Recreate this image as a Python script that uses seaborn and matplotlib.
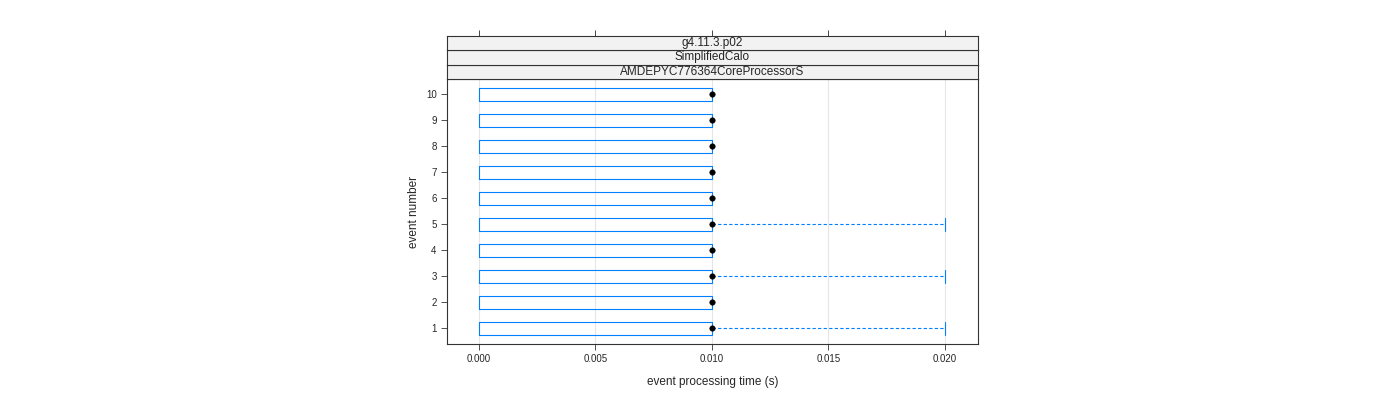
import matplotlib
matplotlib.use("Agg")
import matplotlib.pyplot as plt
import seaborn as sns
import pandas as pd
from matplotlib.patches import Rectangle

# per-event box statistics (seconds)
events = [1, 2, 3, 4, 5, 6, 7, 8, 9, 10]
q1 = [0.0] * 10
median = [0.01] * 10
q3 = [0.01] * 10
whisk_hi = [0.02, 0.01, 0.02, 0.01, 0.02, 0.01, 0.01, 0.01, 0.01, 0.01]
strip_labels = ["g4.11.3.p02", "SimplifiedCalo", "AMDEPYC776364CoreProcessorS"]
xticks = [0.0, 0.005, 0.010, 0.015, 0.020]

BLUE = "#0080ff"

sns.set_style("white")
plt.rcParams["font.family"] = ["Liberation Sans", "DejaVu Sans"]

fig = plt.figure(figsize=(14, 4), dpi=100)
ax = fig.add_axes([447 / 1400, 56 / 400, 531 / 1400, 265 / 400])

stats = []
for e, a, m, b, w in zip(events, q1, median, q3, whisk_hi):
    stats.append(dict(label=str(e), q1=a, med=m, q3=b, whislo=a, whishi=w, fliers=[]))

ax.bxp(stats, positions=events, vert=False, widths=0.5, showcaps=False,
       boxprops=dict(color=BLUE, linewidth=0.8),
       whiskerprops=dict(color=BLUE, linewidth=0.8, linestyle=(0, (3, 2))),
       medianprops=dict(linewidth=0), manage_ticks=False)
# whisker end marks
for e, b, w in zip(events, q3, whisk_hi):
    if w > b:
        ax.plot([w, w], [e - 0.25, e + 0.25], color=BLUE, lw=0.8)

df = pd.DataFrame({"event": events, "median": median})
sns.scatterplot(data=df, x="median", y="event", color="black", s=16,
                edgecolor="black", zorder=5, ax=ax, legend=False)

for t in xticks:
    ax.axvline(t, color="#e6e6e6", lw=0.8, zorder=0)

ax.set_xlim(-0.00137, 0.02142)
ax.set_ylim(0.385, 10.58)
ax.set_xticks(xticks)
ax.set_xticklabels([f"{t:.3f}" for t in xticks], fontsize=7)
ax.set_yticks(events)
ax.set_yticklabels([str(e) for e in events], fontsize=7)
ax.tick_params(axis="both", direction="out", length=4, width=0.6, color="#333333",
               bottom=True, left=True)
ax.set_xlabel("event processing time (s)", fontsize=8.5, labelpad=8)
ax.set_ylabel("event number", fontsize=8.5)
for s in ax.spines.values():
    s.set_color("#333333")
    s.set_linewidth(0.8)

# strips
strip_h = 14.5 / 400
for i, lab in enumerate(reversed(strip_labels)):
    y0 = (321 + i * 14.5) / 400
    sax = fig.add_axes([447 / 1400, y0, 531 / 1400, strip_h])
    sax.set_facecolor("#f2f2f2")
    sax.set_xticks([]); sax.set_yticks([])
    for s in sax.spines.values():
        s.set_color("#333333"); s.set_linewidth(0.8)
    sax.text(0.5, 0.5, lab, ha="center", va="center", fontsize=8.5, transform=sax.transAxes)
    if i == 2:
        sax.set_xlim(ax.get_xlim())
        sax.set_xticks(xticks)
        sax.tick_params(axis="x", top=True, bottom=False, labeltop=False,
                        labelbottom=False, direction="out", length=4, width=0.6)

fig.savefig("out.png", dpi=100)
